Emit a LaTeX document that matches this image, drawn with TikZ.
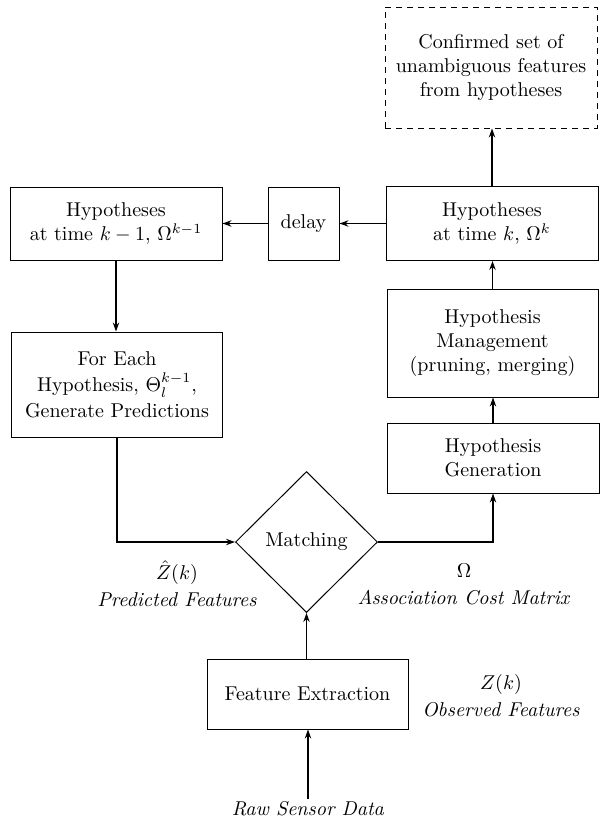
\documentclass[tikz,border=0pt]{standalone}
\usetikzlibrary{shapes.geometric,arrows.meta}
\begin{document}
\begin{tikzpicture}[x=0.5pt,y=-0.5pt,
  box/.style={draw,line width=0.5pt,align=center,inner sep=2pt},
  dbox/.style={box,dashed,dash pattern=on 3pt off 2.5pt},
  lbl/.style={align=center,inner sep=1pt},
  conn/.style={line width=0.6pt,-{Stealth[length=4.5pt,width=3.2pt]}}]
\useasboundingbox (0,0) rectangle (603,819);
\node[dbox,minimum width=106pt,minimum height=60.5pt] (conf) at (491,67.5)
  {Confirmed set of\\unambiguous features\\from hypotheses};
\node[box,minimum width=106pt,minimum height=37pt] (hk) at (492,223.5)
  {Hypotheses\\at time $k$, $\Omega^k$};
\node[box,minimum width=35.5pt,minimum height=36.5pt] (delay) at (303.5,223.5) {delay};
\node[box,minimum width=106pt,minimum height=36.5pt] (hk1) at (116,223.5)
  {Hypotheses\\at time $k-1$, $\Omega^{k-1}$};
\node[box,minimum width=105.5pt,minimum height=52.5pt] (foreach) at (117,384.5)
  {For Each\\[1pt]Hypothesis, $\Theta_l^{k-1}$,\\[1pt]Generate Predictions};
\node[box,minimum width=105.5pt,minimum height=54pt] (mgmt) at (492.5,343)
  {Hypothesis\\Management\\(pruning, merging)};
\node[box,minimum width=106pt,minimum height=35pt] (gen) at (493,458)
  {Hypothesis\\Generation};
\node[draw,line width=0.5pt,shape=diamond,minimum width=71pt,minimum height=70.5pt,inner sep=0pt] (match) at (306.5,542) {Matching};
\node[box,minimum width=100.5pt,minimum height=35pt] (fe) at (307.5,694) {Feature Extraction};
\node[lbl] (raw) at (308,809) {\textit{Raw Sensor Data}};
\node[lbl] (pred) at (177,584) {$\hat{Z}(k)$\\[1.5pt]\textit{Predicted Features}};
\node[lbl] (assoc) at (464,584) {$\Omega$\\[1.5pt]\textit{Association Cost Matrix}};
\node[lbl] (obs) at (501,696) {$Z(k)$\\[1.5pt]\textit{Observed Features}};
\draw[conn] (hk.north) -- (hk.north |- conf.south);
\draw[conn] (hk.west) -- (delay.east);
\draw[conn] (delay.west) -- (hk1.east);
\draw[conn] (hk1.south) -- (hk1.south |- foreach.north);
\draw[conn] (foreach.south) |- (match.west);
\draw[conn] (match.east) -| (gen.south);
\draw[conn] (gen.north) -- (gen.north |- mgmt.south);
\draw[conn] (mgmt.north) -- (mgmt.north |- hk.south);
\draw[conn] (match.south |- fe.north) -- (match.south);
\draw[conn] (raw.north) -- (raw.north |- fe.south);
\end{tikzpicture}
\end{document}
